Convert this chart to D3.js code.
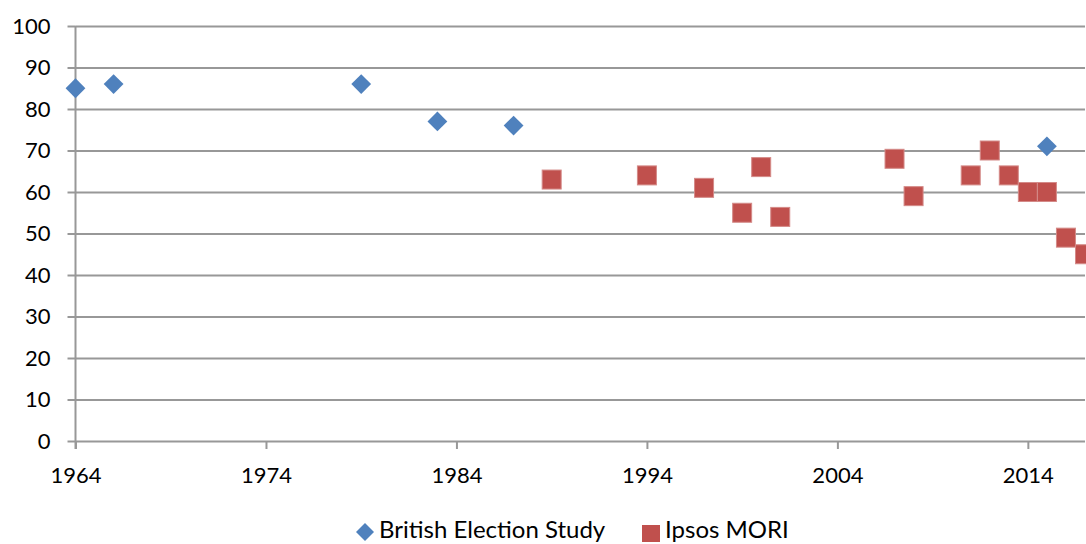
<!DOCTYPE html>
<html>
<head>
<meta charset="utf-8">
<script src="https://cdn.jsdelivr.net/npm/d3@7"></script>
<style>
  body { margin: 0; background: #fff; }
  text { font-family: Lato, "Open Sans", sans-serif; }
</style>
</head>
<body>
<div id="chart"></div>
<script>
// data
const besYears = [1964, 1966, 1979, 1983, 1987, 2015];
const besValues = [85, 86, 86, 77, 76, 71];
const moriYears = [1989, 1994, 1997, 1999, 2000, 2001, 2007, 2008, 2011, 2012, 2013, 2014, 2015, 2016, 2017];
const moriValues = [63, 64, 61, 55, 66, 54, 68, 59, 64, 70, 64, 60, 60, 49, 45];
const xTicks = [1964, 1974, 1984, 1994, 2004, 2014];
const yTicks = [0, 10, 20, 30, 40, 50, 60, 70, 80, 90, 100];

const svgWidth = 1086, svgHeight = 544;
const margin = {top: 26, right: 1, bottom: 103, left: 75.5};
const width = svgWidth - margin.left - margin.right;
const height = svgHeight - margin.top - margin.bottom;

const svg = d3.select('#chart').append('svg')
  .attr('width', svgWidth)
  .attr('height', svgHeight);

const g = svg.append('g')
  .attr('transform', `translate(${margin.left},${margin.top})`);

const x = d3.scaleLinear().domain([1964, 2017]).range([0, width]);
const y = d3.scaleLinear().domain([0, 100]).range([height, 0]);

// horizontal gridlines
g.append('g')
  .call(d3.axisLeft(y).tickValues(yTicks).tickSize(-width).tickFormat(''))
  .call(a => a.select('.domain').remove())
  .call(a => a.selectAll('line').attr('stroke', '#989898').attr('stroke-width', 2));

// y axis with labels
g.append('g')
  .call(d3.axisLeft(y).tickValues(yTicks).tickSize(8).tickPadding(17))
  .call(a => a.select('.domain').attr('stroke', '#989898').attr('stroke-width', 2).attr('d', `M0,${height + 8}V0`))
  .call(a => a.selectAll('line').attr('stroke', '#989898').attr('stroke-width', 2))
  .call(a => a.selectAll('text').attr('font-size', 22).attr('fill', '#000'));

// x axis
g.append('g')
  .attr('transform', `translate(0,${height})`)
  .call(d3.axisBottom(x).tickValues(xTicks).tickFormat(d3.format('d')).tickSize(8).tickPadding(18))
  .call(a => a.select('.domain').remove())
  .call(a => a.selectAll('line').attr('stroke', '#989898').attr('stroke-width', 2))
  .call(a => a.selectAll('text').attr('font-size', 22).attr('fill', '#000'));

const blue = '#4F81BD', red = '#C0504D';
const sq = 19;

// Ipsos MORI squares
g.selectAll('.mori')
  .data(moriYears.map((yr, i) => ({yr, v: moriValues[i]})))
  .join('rect')
  .attr('class', 'mori')
  .attr('x', d => x(d.yr) - sq / 2)
  .attr('y', d => y(d.v) - sq / 2)
  .attr('width', sq)
  .attr('height', sq)
  .attr('fill', red)
  .attr('stroke', '#D48A88')
  .attr('stroke-width', 1);

// BES diamonds
g.selectAll('.bes')
  .data(besYears.map((yr, i) => ({yr, v: besValues[i]})))
  .join('path')
  .attr('class', 'bes')
  .attr('d', d3.symbol().type(d3.symbolSquare).size(196)())
  .attr('transform', d => `translate(${x(d.yr)},${y(d.v)}) rotate(45)`)
  .attr('fill', blue);

// legend
const legend = svg.append('g');
legend.append('path')
  .attr('d', d3.symbol().type(d3.symbolSquare).size(162)())
  .attr('transform', 'translate(365,532) rotate(45)')
  .attr('fill', blue);
legend.append('text')
  .attr('x', 379).attr('y', 538)
  .attr('font-size', 24).text('British Election Study');
legend.append('rect')
  .attr('x', 642).attr('y', 525).attr('width', 18).attr('height', 17)
  .attr('fill', red);
legend.append('text')
  .attr('x', 665).attr('y', 538)
  .attr('font-size', 24).text('Ipsos MORI');
</script>
</body>
</html>
